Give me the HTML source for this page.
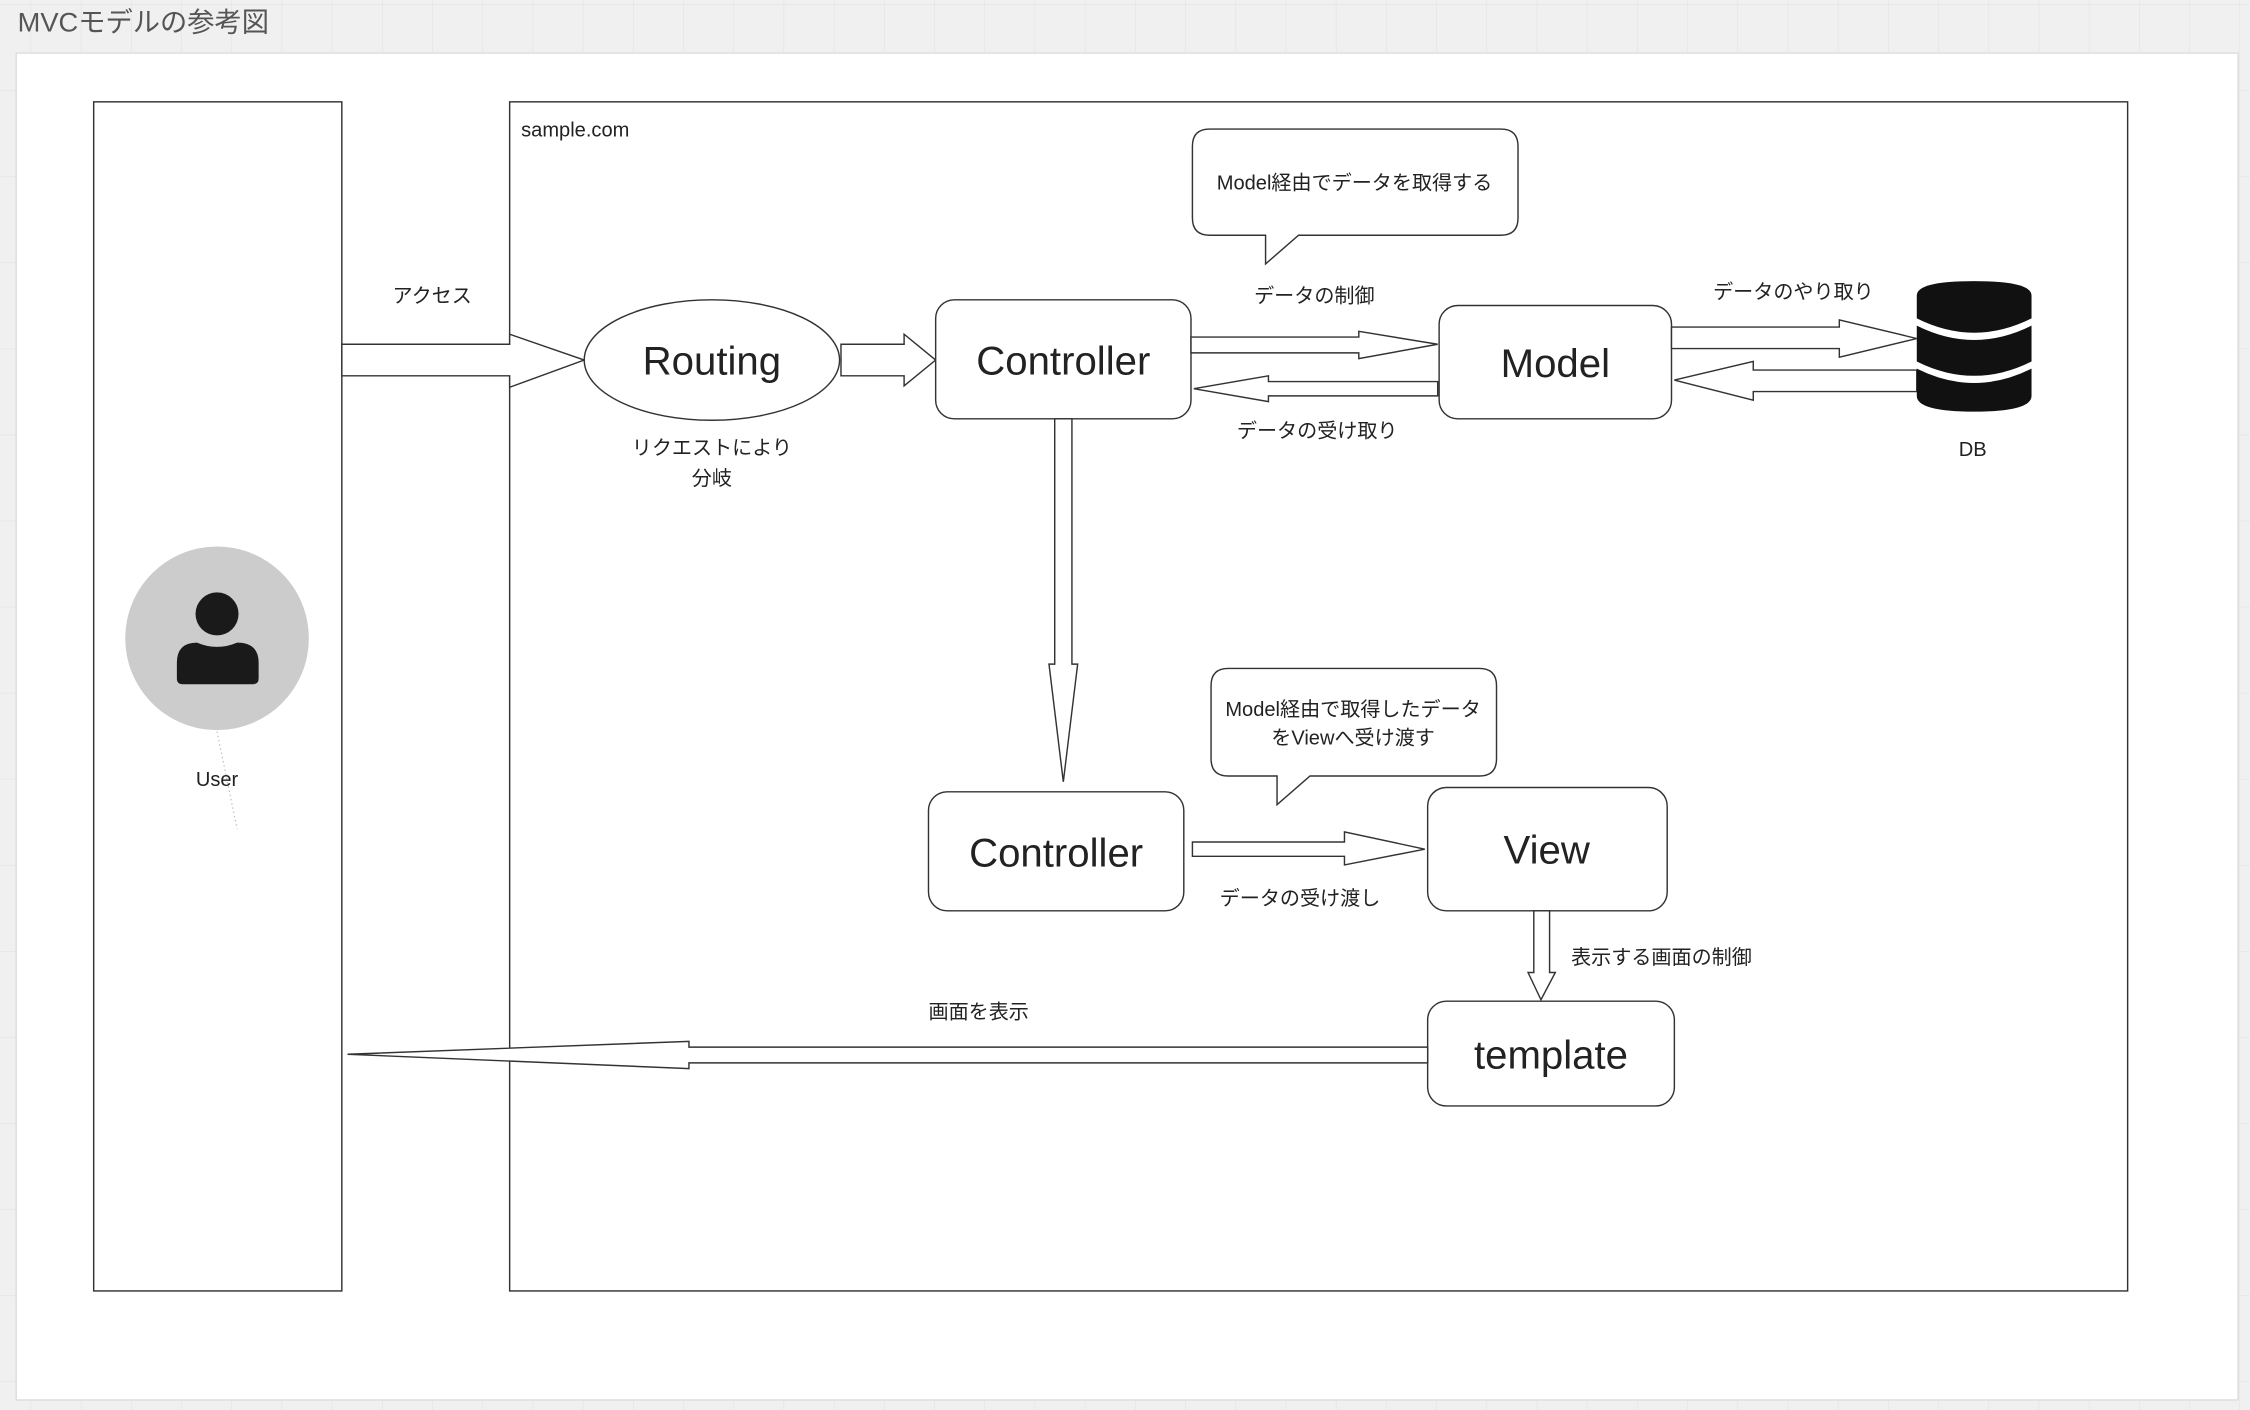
<!DOCTYPE html>
<html><head><meta charset="utf-8"><style>
html,body{margin:0;padding:0;background:#f0f0f0;}
svg{display:block;}
text{font-family:"Liberation Sans","Noto Sans CJK JP",sans-serif;fill:#222;}
</style></head><body>
<svg width="2250" height="1410" viewBox="0 0 1568 983" xmlns="http://www.w3.org/2000/svg">
<defs>
<pattern id="g" width="35" height="60" patternUnits="userSpaceOnUse" x="21" y="3">
<path d="M0 0V60M0 0H35" stroke="#e2e2e2" stroke-width="0.8" fill="none"/>
</pattern>
</defs>
<rect width="1568" height="983" fill="#f0f0f0"/>
<rect width="1568" height="983" fill="url(#g)"/>
<text x="12" y="22" font-size="19" style="fill:#555">MVCモデルの参考図</text>
<rect x="11" y="37" width="1549" height="939" fill="#fff" stroke="#ddd"/>

<g stroke="#333" stroke-width="1" fill="#fff">
<rect x="65" y="71" width="173" height="829"/>
<rect x="355" y="71" width="1128" height="829"/>
<polygon points="238,240 355,240 355,233 407,251 355,270 355,262 238,262"/>
<ellipse cx="496" cy="251" rx="89" ry="42"/>
<polygon points="586,240 630,240 630,233 652,251 630,269 630,262 586,262"/>
<rect x="652" y="209" width="178" height="83" rx="13"/>
<path d="M843,90 H1046 Q1058,90 1058,102 V152 Q1058,164 1046,164 H905 L882,184 V164 H843 Q831,164 831,152 V102 Q831,90 843,90Z"/>
<polygon points="830,235 947,235 947,231 1002,240 947,250 947,246 830,246"/>
<polygon points="1002,266 884,266 884,262 832,271 884,280 884,276 1002,276"/>
<rect x="1003" y="213" width="162" height="79" rx="13"/>
<polygon points="1165,228 1282,228 1282,223 1336,236 1282,249 1282,243 1165,243"/>
<polygon points="1336,258 1222,258 1222,252 1167,265 1222,279 1222,273 1336,273"/>
<polygon points="735,292 747,292 747,463 751,463 741,545 731,463 735,463"/>
<rect x="647" y="552" width="178" height="83" rx="13"/>
<path d="M856,466 H1031 Q1043,466 1043,478 V529 Q1043,541 1031,541 H913 L890,561 V541 H856 Q844,541 844,529 V478 Q844,466 856,466Z"/>
<polygon points="831,587 937,587 937,580 993,592 937,603 937,597 831,597"/>
<rect x="995" y="549" width="167" height="86" rx="13"/>
<polygon points="1069,635 1080,635 1080,678 1084,678 1074,697 1065,678 1069,678"/>
<rect x="995" y="698" width="172" height="73" rx="13"/>
<polygon points="995,730 480,730 480,726 242,735 480,745 480,741 995,741"/>
</g>

<g fill="#111">
<path d="M1336,206 Q1336,196 1376,196 Q1416,196 1416,206 V222 Q1376,242 1336,222Z"/>
<path d="M1336,227 Q1376,247 1416,227 V252 Q1376,272 1336,252Z"/>
<path d="M1336,257 Q1376,277 1416,257 V276 Q1416,287 1376,287 Q1336,287 1336,276Z"/>
</g>

<circle cx="151" cy="445" r="64" fill="#cccccc"/>
<circle cx="151" cy="428" r="15" fill="#1a1a1a"/>
<path d="M123,473 V462 Q123,448 137,448 Q144,451 151,451 Q158,451 165,448 Q180,448 180,462 V473 Q180,477 176,477 H127 Q123,477 123,473Z" fill="#1a1a1a"/>
<path d="M151,510 L165,578" stroke="#bbb" stroke-width="0.8" stroke-dasharray="1,2"/>

<g font-size="14" text-anchor="middle">
<text x="151" y="548">User</text>
<text x="301" y="211">アクセス</text>
<text x="496" y="317">リクエストにより</text>
<text x="496" y="338">分岐</text>
<text x="944" y="132">Model経由でデータを取得する</text>
<text x="916" y="211">データの制御</text>
<text x="918" y="305">データの受け取り</text>
<text x="1250" y="208">データのやり取り</text>
<text x="1375" y="318">DB</text>
<text x="943" y="499">Model経由で取得したデータ</text>
<text x="943" y="519">をViewへ受け渡す</text>
<text x="906" y="631">データの受け渡し</text>
<text x="1158" y="672">表示する画面の制御</text>
<text x="682" y="710">画面を表示</text>
</g>
<text x="363" y="95" font-size="14">sample.com</text>
<g font-size="28" text-anchor="middle">
<text x="496" y="261">Routing</text>
<text x="741" y="261">Controller</text>
<text x="1084" y="263">Model</text>
<text x="736" y="604">Controller</text>
<text x="1078" y="602">View</text>
<text x="1081" y="745">template</text>
</g>
</svg>
</body></html>
